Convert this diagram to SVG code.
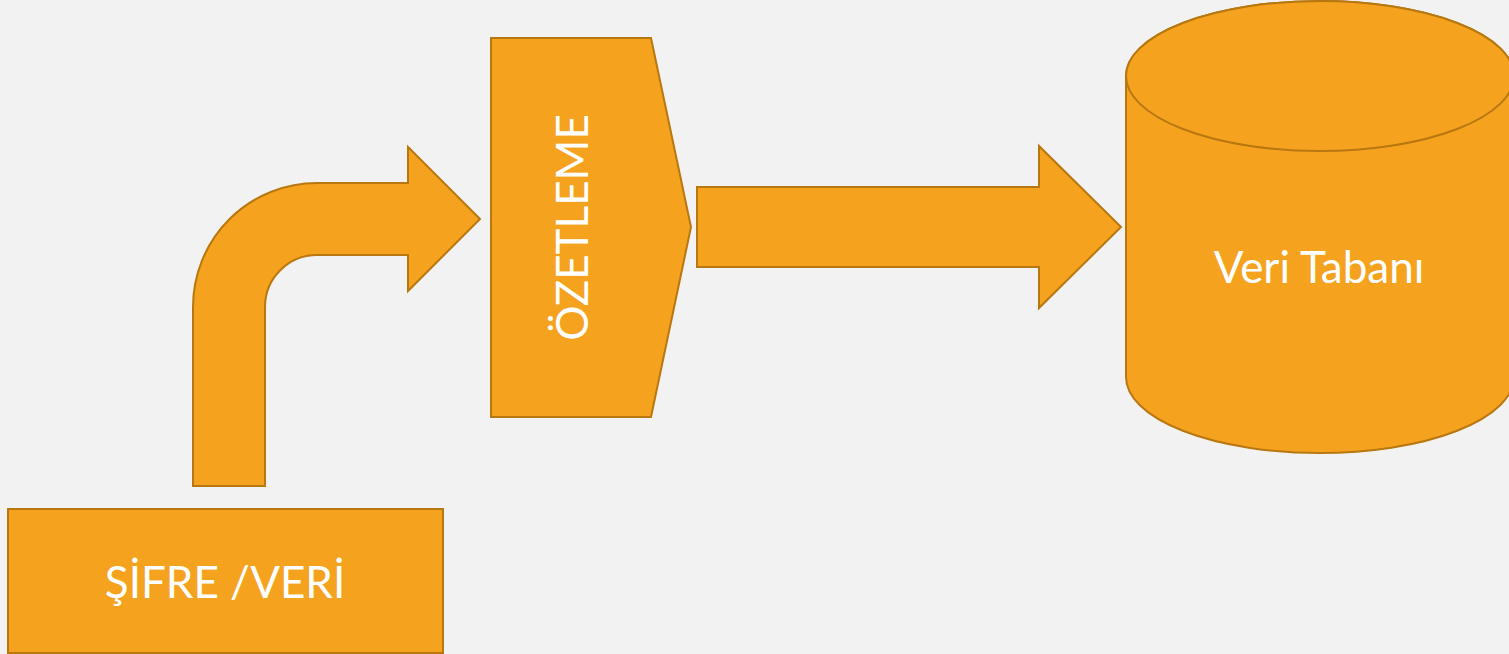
<svg xmlns="http://www.w3.org/2000/svg" width="1509" height="654" viewBox="0 0 1509 654">
<style>
.s{fill:#F5A31F;stroke:#B8770F;stroke-width:2;stroke-linejoin:miter}
.t{fill:#FFFFFF;font-family:Lato,"Open Sans","Liberation Sans",sans-serif;font-size:44px;text-anchor:middle}
</style>
<rect width="1509" height="654" fill="#F2F2F2"/>
<g id="connectors">
<path class="s" d="M193,486 L193,307 A124,124 0 0 1 317,183 L408,183 L408,147 L480,219 L408,291 L408,255 L317,255 A52,52 0 0 0 265,307 L265,486 Z"/>
<path class="s" d="M697,187 L1039,187 L1039,146 L1121,227 L1039,308 L1039,267 L697,267 Z"/>
</g>
<g id="sifre">
<rect class="s" x="8" y="509" width="435" height="144"/>
<text class="t" x="225" y="598">ŞİFRE /VERİ</text>
</g>
<g id="ozetleme">
<path class="s" d="M491,38 L651,38 L691,227 L651,417 L491,417 Z"/>
<text class="t" transform="translate(588,227.5) rotate(-90)" x="0" y="0">ÖZETLEME</text>
</g>
<g id="veritabani">
<path class="s" d="M1126,76 L1126,377 A194,76 0 0 0 1514,377 L1514,76 A194,75 0 0 0 1126,76 Z"/>
<ellipse class="s" cx="1320" cy="76" rx="194" ry="75"/>
<text class="t" x="1319" y="283">Veri Tabanı</text>
</g>
</svg>
